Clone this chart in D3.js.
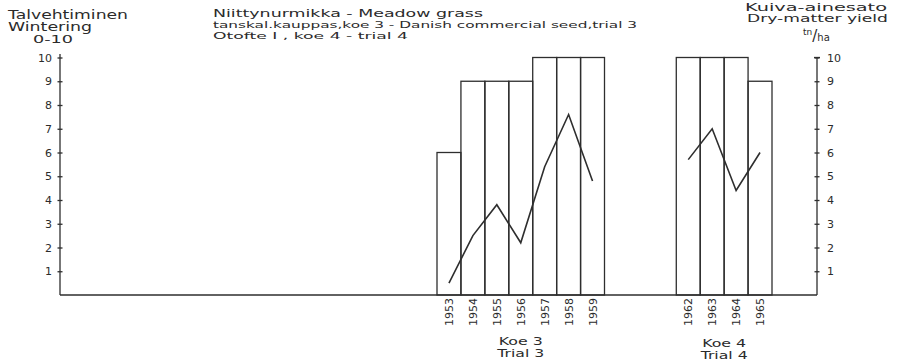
<!DOCTYPE html>
<html>
<head>
<meta charset="utf-8">
<script src="https://cdn.jsdelivr.net/npm/d3@7"></script>
<style>
  html, body { margin: 0; padding: 0; background: #fff; }
  svg { display: block; }
  text { font-family: "DejaVu Sans", sans-serif; fill: #2b2b2b; }
</style>
</head>
<body>
<svg id="chart" width="898" height="363"></svg>
<script>
// ---- data ----
const years = ["1953","1954","1955","1956","1957","1958","1959","1962","1963","1964","1965"];
const trial = ["3","3","3","3","3","3","3","4","4","4","4"];
const wintering = [6, 9, 9, 9, 10, 10, 10, 10, 10, 10, 9];          // 0-10 (left axis)
const dryMatter = [0.5, 2.5, 3.8, 2.2, 5.4, 7.6, 4.8, 5.7, 7.0, 4.4, 6.0]; // tn/ha (right axis)
const gapSlots = ["gap1", "gap2", "gap3"];
const yTicks = [1, 2, 3, 4, 5, 6, 7, 8, 9, 10];
const groups = [
  { trial: "3", line1: "Koe 3", line2: "Trial 3" },
  { trial: "4", line1: "Koe 4", line2: "Trial 4" }
];

const svg = d3.select("#chart");
const ink = "#2e2e2e";

const axisLeftX = 60, axisRightX = 817;
const y = d3.scaleLinear().domain([0, 10]).range([295, 57.5]);

const slots = years.slice(0, 7).concat(gapSlots, years.slice(7));
const x = d3.scaleBand().domain(slots).range([437, 772]).padding(0);

const rows = years.map((yr, i) => ({ year: yr, trial: trial[i], w: wintering[i], dm: dryMatter[i] }));

// ---- bars ----
svg.append("g").selectAll("rect").data(rows).join("rect")
  .attr("x", d => x(d.year))
  .attr("y", d => y(d.w))
  .attr("width", x.bandwidth())
  .attr("height", d => y(0) - y(d.w))
  .attr("fill", "none")
  .attr("stroke", ink)
  .attr("stroke-width", 1.3);

// ---- baseline ----
svg.append("line")
  .attr("x1", axisLeftX).attr("x2", axisRightX)
  .attr("y1", y(0)).attr("y2", y(0))
  .attr("stroke", ink).attr("stroke-width", 1.4);

// ---- yield lines ----
const line = d3.line().x(d => x(d.year) + x.bandwidth() / 2).y(d => y(d.dm));
groups.forEach(g => {
  svg.append("path")
    .datum(rows.filter(r => r.trial === g.trial))
    .attr("d", line)
    .attr("fill", "none")
    .attr("stroke", ink)
    .attr("stroke-width", 1.6)
    .attr("stroke-linejoin", "miter");
});

// ---- axes ----
const gL = svg.append("g").attr("transform", `translate(${axisLeftX},0)`)
  .call(d3.axisLeft(y).tickValues(yTicks).tickSizeOuter(0).tickSize(3).tickPadding(5));
gL.selectAll(".tick line").attr("x1", -2.5).attr("x2", 2.5);
gL.select(".domain").attr("d", `M0,54V${y(0)}`);

const gR = svg.append("g").attr("transform", `translate(${axisRightX},0)`)
  .call(d3.axisRight(y).tickValues(yTicks).tickSizeOuter(0).tickSize(3).tickPadding(7));
gR.selectAll(".tick line").attr("x1", -2.5).attr("x2", 2.5);
gR.select(".domain").attr("d", `M0,${y(10)}V${y(0)}`);
gR.append("line").attr("x1", -3).attr("x2", 3).attr("y1", y(10)).attr("y2", y(10))
  .attr("stroke", ink).attr("stroke-width", 1.3);

[gL, gR].forEach(g => {
  g.selectAll("path, line").attr("stroke", ink).attr("stroke-width", 1.3);
  g.selectAll("text").attr("font-size", 11).attr("fill", "#2b2b2b")
    .attr("font-family", "DejaVu Sans, sans-serif");
});

// ---- year labels ----
svg.append("g").selectAll("text").data(rows).join("text")
  .attr("transform", d => `translate(${x(d.year) + x.bandwidth() / 2 + 4},298) rotate(-90)`)
  .attr("text-anchor", "end")
  .attr("font-size", 11)
  .text(d => d.year);

// ---- helper for fitted text ----
function label(txt, px, py, size, len, anchor) {
  svg.append("text").attr("x", px).attr("y", py).attr("font-size", size)
    .attr("text-anchor", anchor || "start")
    .attr("textLength", len).attr("lengthAdjust", "spacingAndGlyphs").text(txt);
}

// ---- group labels ----
groups.forEach((g, i) => {
  const ys = rows.filter(r => r.trial === g.trial).map(r => r.year);
  const cx = (x(ys[0]) + x(ys[ys.length - 1]) + x.bandwidth()) / 2;
  const base = i === 0 ? 345 : 347;
  label(g.line1, cx, base, 10, 44, "middle");
  label(g.line2, cx, base + 12, 10, 47, "middle");
});

// ---- titles ----
label("Talvehtiminen", 8, 18.5, 12, 120);
label("Wintering", 8, 31, 12, 84);
label("0-10", 33, 43, 11, 40);

label("Niittynurmikka - Meadow grass", 213, 16.5, 10.5, 270);
label("tanskal.kauppas,koe 3 - Danish commercial seed,trial 3", 213, 28, 9, 424);
label("Otofte I , koe 4 - trial 4", 213, 38.5, 9, 195);

label("Kuiva-ainesato", 745, 11, 10, 142);
label("Dry-matter yield", 747, 21.5, 10, 141);

const u = svg.append("text").attr("x", 803).attr("y", 41);
u.append("tspan").attr("font-size", 9).attr("dy", -6).text("tn");
u.append("tspan").attr("font-size", 15).attr("dy", 6).text("/");
u.append("tspan").attr("font-size", 10).text("ha");
</script>
</body>
</html>
